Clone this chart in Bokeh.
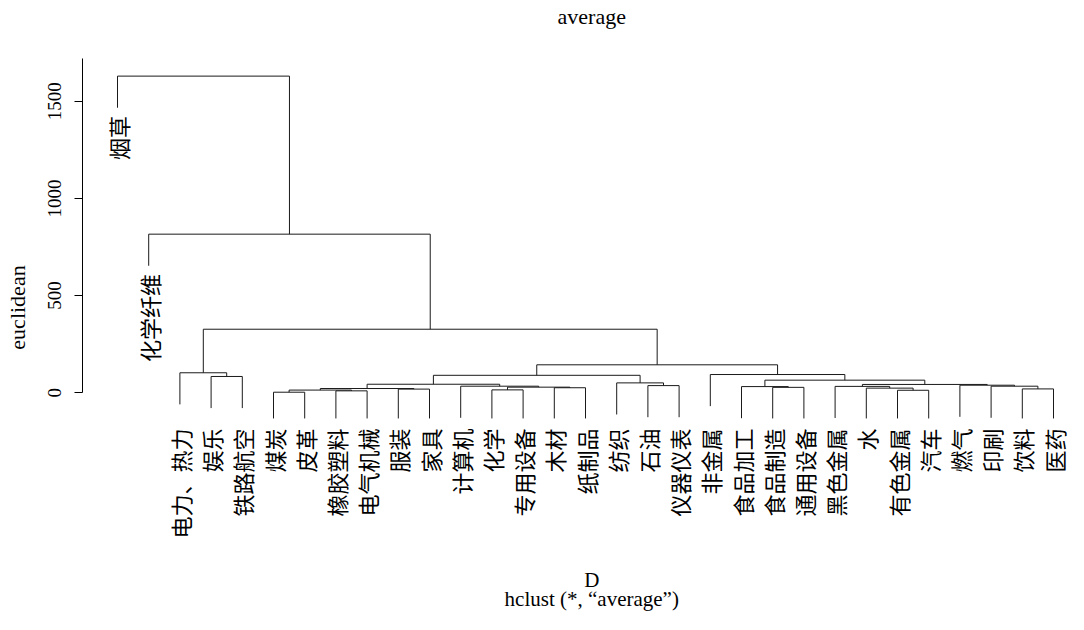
import numpy as np
from bokeh.plotting import figure
from bokeh.models import ColumnDataSource, FixedTicker, Range1d
from bokeh.core.properties import value
from bokeh.embed import file_html
from bokeh.resources import INLINE

# ---------------- data ----------------
leaf_labels = ["烟草", "化学纤维", "电力、热力", "娱乐", "铁路航空", "煤炭", "皮革",
               "橡胶塑料", "电气机械", "服装", "家具", "计算机", "化学", "专用设备",
               "木材", "纸制品", "纺织", "石油", "仪器仪表", "非金属", "食品加工",
               "食品制造", "通用设备", "黑色金属", "水", "有色金属", "汽车", "燃气",
               "印刷", "饮料", "医药"]

# hclust-style merge table: negative = leaf (1-based), positive = earlier merge (1-based)
merge_left = [-6, -8, -26, 1, -13, -10, -30, 4, -25, -15, -22, 5, -21, -24, -12,
              -29, -18, -28, 8, 14, -17, 13, -4, 19, -20, -3, 24, 26, -2, -1]
merge_right = [-7, -9, -27, 2, -14, -11, -31, 6, 3, -16, -23, 10, 11, 9, 12,
               7, -19, 16, 15, 18, 17, 20, -5, 21, 22, 23, 25, 27, 28, 29]
merge_height = [3, 10, 13, 14, 15, 19, 20, 22, 24, 26, 28, 29, 32, 33, 34,
                34, 37, 39, 44, 43, 51, 65, 84, 90, 94, 103, 144, 327, 816, 1629]

y_ticks = [0, 500, 1000, 1500]
main_title = "average"
y_label = "euclidean"
x_label = "D"
sub_label = "hclust (*, \u201caverage\u201d)"

# ---------------- style constants ----------------
HANG_FRAC = 0.1
LEAF_FLOOR = -132
LABEL_GAP = 42
LABEL_FLOOR = -184
SERIF = "Liberation Serif"
CJK = "Noto Sans CJK SC"

# ---------------- geometry from the merge table ----------------
n_leaves = len(leaf_labels)
heights = np.array(merge_height, dtype=float)
hang = HANG_FRAC * (heights.max() - heights.min())
node_x = []

def xpos(i):
    return float(-i) if i < 0 else node_x[i - 1]

x0s, y0s, x1s, y1s = [], [], [], []
lab_x, lab_y, lab_t = [], [], []
for l, r, h in zip(merge_left, merge_right, merge_height):
    xl, xr = xpos(l), xpos(r)
    node_x.append((xl + xr) / 2.0)
    x0s.append(xl); y0s.append(h); x1s.append(xr); y1s.append(h)
    for c in (l, r):
        xc = xpos(c)
        if c > 0:
            bottom = merge_height[c - 1]
        else:
            bottom = max(h - hang, LEAF_FLOOR)
            lab_x.append(xc)
            ly = bottom - LABEL_GAP
            lab_y.append(ly if ly > 0 else LABEL_FLOOR)
            lab_t.append(leaf_labels[-c - 1])
        x0s.append(xc); y0s.append(h); x1s.append(xc); y1s.append(bottom)

seg_src = ColumnDataSource(dict(x0=x0s, y0=y0s, x1=x1s, y1=y1s))
lab_src = ColumnDataSource(dict(x=lab_x, y=lab_y, text=lab_t))

# ---------------- figure ----------------
W, H = 1068, 614
LEFT = 82
FIRST_LEAF_PX = 117
px_per_leaf = 31.2
px_per_unit = 0.1944
ZERO_PX = 392.3
x_start = 1 - (FIRST_LEAF_PX - LEFT) / px_per_leaf
x_end = x_start + (W - LEFT) / px_per_leaf
y_end = ZERO_PX / px_per_unit
y_start = y_end - H / px_per_unit

p = figure(width=W, height=H, output_backend="svg", toolbar_location=None,
           x_axis_type=None, title=None,
           x_range=Range1d(x_start, x_end), y_range=Range1d(y_start, y_end),
           min_border_left=LEFT, min_border_right=0, min_border_top=0,
           min_border_bottom=0)
p.outline_line_color = None
p.ygrid.grid_line_color = None
p.background_fill_color = "white"
p.border_fill_color = "white"

ax = p.yaxis[0]
ax.ticker = FixedTicker(ticks=y_ticks)
ax.bounds = (0, 1718)
ax.major_tick_out = 8
ax.major_tick_in = 0
ax.minor_tick_out = 0
ax.minor_tick_in = 0
ax.major_label_orientation = "vertical"
ax.major_label_standoff = 13
ax.major_label_text_font = SERIF
ax.major_label_text_font_size = "19px"
ax.major_label_text_color = "black"
ax.axis_line_color = "black"
ax.major_tick_line_color = "black"
ax.axis_label = y_label
ax.axis_label_text_font = SERIF
ax.axis_label_text_font_style = "normal"
ax.axis_label_text_font_size = "22px"
ax.axis_label_text_color = "black"
ax.axis_label_standoff = 16

p.segment(x0="x0", y0="y0", x1="x1", y1="y1", source=seg_src,
          line_color="#1a1a1a", line_width=1)

p.text(x="x", y="y", text="text", source=lab_src, angle=np.pi / 2,
       text_align="right", text_baseline="middle",
       text_font=value(CJK), text_font_size="22px", text_color="black")

cx = (1 + n_leaves) / 2.0 + 0.2
def y_of(screen_y):
    return (ZERO_PX - screen_y) / px_per_unit

p.text(x=[cx], y=[y_of(16)], text=[main_title], text_align="center",
       text_baseline="alphabetic", text_font=value(SERIF),
       text_font_size="22px", text_color="black")
p.text(x=[cx], y=[y_of(579)], text=[x_label], text_align="center",
       text_baseline="alphabetic", text_font=value(SERIF),
       text_font_size="21px", text_color="black")
p.text(x=[cx], y=[y_of(598)], text=[sub_label], text_align="center",
       text_baseline="alphabetic", text_font=value(SERIF),
       text_font_size="21px", text_color="black")

open("out.html", "w").write(file_html(p, INLINE))
